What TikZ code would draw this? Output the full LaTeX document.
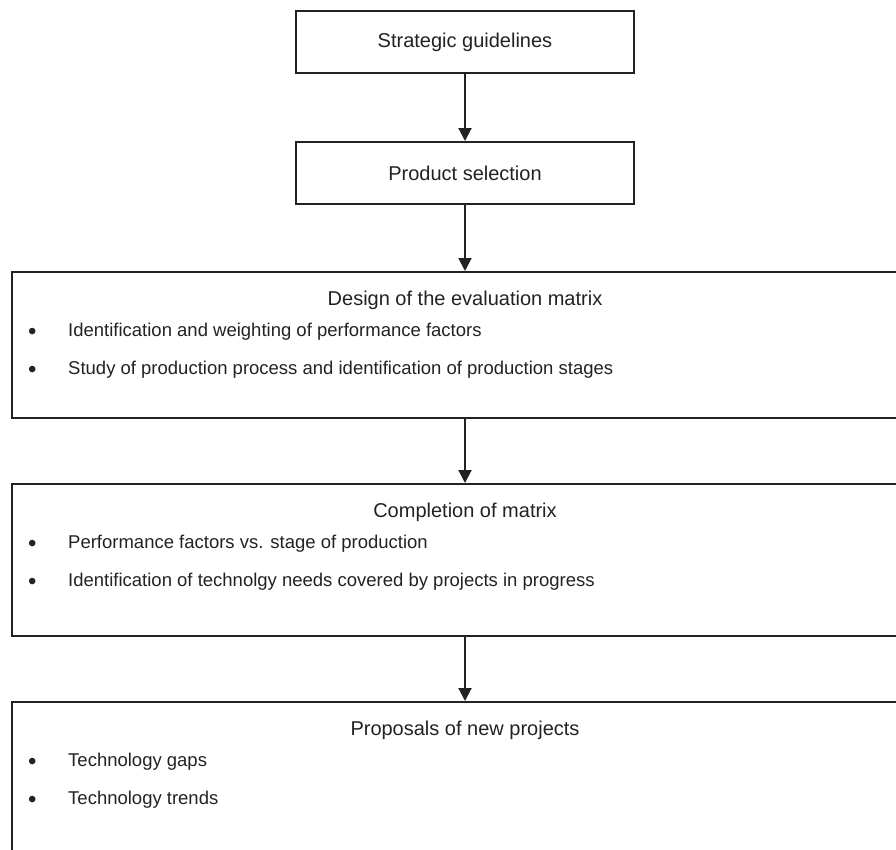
\documentclass[tikz,border=0pt]{standalone}
\usepackage{fontspec}
\setmainfont{Liberation Sans}
\usetikzlibrary{arrows.meta,positioning,calc}
\definecolor{ink}{HTML}{222222}
\newcommand{\dotmark}{\makebox[40pt][l]{\raisebox{-2.5pt}{\fontsize{24}{22}\selectfont\textbullet}}}

\begin{document}
\begin{tikzpicture}[
  x=1pt, y=1pt,
  node distance=67pt,
  stagebox/.style={draw=ink, line width=2pt, minimum width=338pt, minimum height=62pt,
    font=\fontsize{20}{24}\selectfont, text=ink},
  widebox/.style={draw=ink, line width=2pt, minimum width=906pt, minimum height=146pt},
  head/.style={font=\fontsize{20}{24}\selectfont, text=ink, inner sep=0pt},
  point/.style={anchor=west, font=\fontsize{18.5}{22}\selectfont, text=ink, inner sep=0pt,
    text height=13pt, text depth=4pt},
  arr/.style={-{Triangle[length=13pt, width=13pt]}, line width=2pt, draw=ink}
]
  \useasboundingbox (0,0) rectangle (896,-849);

  % top stages
  \node[stagebox] (guide) at (465,-42) {Strategic guidelines};
  \node[stagebox, below=of guide] (select) {Product selection};

  % wide stages
  \node[widebox, below=66pt of select] (design) {};
  \node[widebox, minimum height=152pt, below=64pt of design] (fill) {};
  \node[widebox, minimum height=170pt, below=64pt of fill] (propose) {};

  \node[head] (designH) at ($(design.north)+(0,-29)$) {Design of the evaluation matrix};
  \node[point] (design1) at ($(design.north west)+(17,-61)$)
    {\dotmark Identification and weighting of performance factors};
  \node[point] (design2) at ($(design.north west)+(17,-99)$)
    {\dotmark Study of production process and identification of production stages};

  \node[head] (fillH) at ($(fill.north)+(0,-29)$) {Completion of matrix};
  \node[point] (fill1) at ($(fill.north west)+(17,-61)$)
    {\dotmark Performance factors vs. stage of production};
  \node[point] (fill2) at ($(fill.north west)+(17,-99)$)
    {\dotmark Identification of technolgy needs covered by projects in progress};

  \node[head] (proposeH) at ($(propose.north)+(0,-29)$) {Proposals of new projects};
  \node[point] (propose1) at ($(propose.north west)+(17,-61)$)
    {\dotmark Technology gaps};
  \node[point] (propose2) at ($(propose.north west)+(17,-99)$)
    {\dotmark Technology trends};

  \draw[arr] (guide) -- (select);
  \draw[arr] (select) -- (design);
  \draw[arr] (design) -- (fill);
  \draw[arr] (fill) -- (propose);
\end{tikzpicture}
\end{document}
